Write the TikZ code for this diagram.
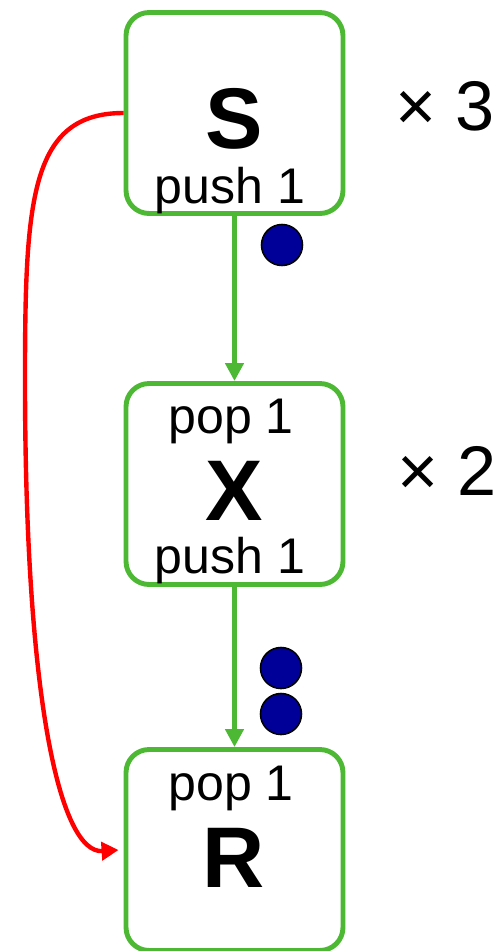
\documentclass[tikz,border=0pt]{standalone}
\usepackage{fontspec}
\setmainfont{Liberation Sans}
\usepackage{xcolor}
\definecolor{LeafGreen}{HTML}{4DB833}
\definecolor{TokenBlue}{HTML}{000099}
\definecolor{JumpRed}{HTML}{FF0000}
\usetikzlibrary{arrows.meta,positioning,calc}

\begin{document}
\begin{tikzpicture}[
  x=0.02cm, y=-0.02cm,
  box/.style={draw=LeafGreen, line width=2.8pt, rounded corners=0.46cm,
              minimum width=4.34cm, minimum height=4.02cm, inner sep=0pt},
  op/.style={anchor=base, inner sep=0pt, font=\fontsize{28.5}{32}\selectfont},
  big/.style={anchor=base, inner sep=0pt, font=\fontsize{49}{54}\selectfont\bfseries},
  times/.style={anchor=base, inner sep=0pt, font=\fontsize{40}{44}\selectfont},
  token/.style={circle, draw=black, fill=TokenBlue, line width=0.9pt,
                minimum size=0.82cm, inner sep=0pt},
  arr/.style={-{Triangle[length=0.36cm,width=0.36cm]}, line width=2.8pt, LeafGreen},
  jump/.style={-{Triangle[length=0.34cm,width=0.36cm]}, line width=2.5pt, JumpRed}
]
  \useasboundingbox (0,0) rectangle (500,951);

  % the three filters
  \node[box] (S) at (234.5,113) {};
  \node[box] (X) at (234.5,484) {};
  \node[box] (R) at (234.5,850) {};

  % texts inside the boxes
  \node[big] (Sname) at (234,148) {S};
  \node[op] (Spush) at (230,203) {push 1};
  \node[op] (Xpop) at (231,433) {pop 1};
  \node[big] (Xname) at (234,520) {X};
  \node[op] (Xpush) at (230,573) {push 1};
  \node[op] (Rpop) at (231,800) {pop 1};
  \node[big] (Rname) at (234,887) {R};

  % repetition counts
  \node[times] (Sreps) at (445,130) {× 3};
  \node[times] (Xreps) at (447,495) {× 2};

  % tokens on the channels
  \node[token] (tokA) at (282,245) {};
  \node[token] (tokB) at (281,668) {};
  \node[token] (tokC) at (281,714) {};

  \draw[arr] (S) -- (X);
  \draw[arr] (X) -- (R);
  \draw[jump] (S.west) .. controls (30,113) and (25,200) .. (25,380)
    .. controls (25,700) and (60,854) .. ([xshift=-0.1cm]R.west);
\end{tikzpicture}
\end{document}
